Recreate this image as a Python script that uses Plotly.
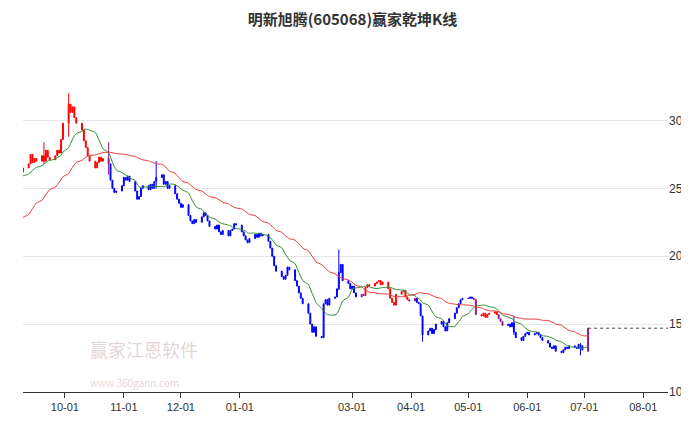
import pandas as pd
import plotly.graph_objects as go

# daily closes, one row per week (Mon..Fri), from 2022-07-18
closes = [
    18.6, 18.8, 18.5, 18.9, 19.0,
    19.0, 19.3, 19.6, 19.4, 19.9,
    20.2, 20.0, 20.6, 21.0, 20.8,
    21.4, 21.7, 21.5, 22.2, 22.6,
    23.0, 23.4, 23.2, 23.8, 24.2,
    24.5, 24.9, 24.7, 25.2, 25.5,
    25.8, 25.5, 26.0, 25.7, 25.9,
    26.3, 26.0, 26.4, 26.2, 26.5,
    26.8, 27.5, 26.9, 27.2, 27.0,
    27.4, 27.0, 27.8, 27.3, 27.1,
    27.4, 27.8, 27.6, 28.6, 29.8,
    31.2, 30.6, 31.0, 30.2, 29.8,
    29.3, 28.5, 28.0, 27.4, 27.0,
    26.5, 26.9, 27.3, 27.0, 27.2,
    26.8, 25.6, 25.0, 24.7, 24.8,
    25.2, 25.8, 25.6, 25.9, 25.5,
    24.8, 24.2, 24.4, 25.0, 25.2,
    24.9, 25.3, 25.0, 25.5, 25.8,
    26.0, 25.3, 25.5, 25.0, 25.2,
    24.6, 24.2, 23.9, 23.6, 23.8,
    23.0, 22.6, 22.4, 22.7, 22.5,
    22.9, 23.2, 23.0, 22.6, 22.2,
    22.0, 22.3, 21.8, 21.6, 21.9,
    21.5, 21.9, 22.0, 22.4, 22.3,
    21.8, 21.5, 21.2, 21.0, 21.3,
    21.6, 21.4, 21.7, 21.5, 21.6,
    21.1, 20.6, 20.0, 19.3, 18.9,
    18.5, 18.3, 18.6, 19.2, 19.0,
    18.2, 17.8, 17.3, 16.9, 16.5,
    15.8, 15.0, 14.4, 14.8, 14.1,
    14.0, 16.5, 16.8, 16.4, 16.9,
    17.0, 17.6, 18.8, 19.4, 18.2,
    18.0, 17.6, 17.8, 17.3, 17.0,
    17.2, 17.1, 17.7, 17.9, 17.8,
    18.0, 18.1, 18.2, 17.9, 18.1,
    17.6, 16.9, 16.6, 16.4, 17.2,
    17.4, 17.5, 17.0, 16.8, 16.7,
    16.9, 16.6, 16.5, 15.6, 14.2,
    14.5, 14.7, 14.3, 14.6, 15.0,
    15.2, 14.8, 14.5, 15.1, 15.4,
    15.8, 16.2, 16.5, 16.8, 16.9,
    16.9, 17.0, 16.9, 16.8, 15.7,
    15.6, 15.8, 15.5, 15.7, 15.8,
    15.9, 15.7, 15.4, 15.2, 14.9,
    15.0, 14.8, 15.1, 14.4, 14.0,
    13.8, 14.1, 14.3, 14.4, 14.2,
    14.3, 14.4, 14.2, 14.0, 13.8,
    13.6, 13.3, 13.2, 13.4, 13.0,
    12.9, 13.1, 13.3, 13.2, 13.4,
    13.3, 13.2, 13.5, 13.4, 13.1,
    14.7,
]
# days with long shadows: date -> (high, low)
wicks = {
    "2022-09-20": (28.4, 26.8),
    "2022-10-03": (32.0, 28.8),
    "2022-10-24": (28.4, 26.0),
    "2022-11-18": (27.0, 25.0),
    "2023-02-22": (20.5, 17.5),
    "2023-04-07": (15.6, 13.7),
    "2023-05-25": (15.6, 14.2),
    "2023-06-29": (13.6, 12.7),
}

dates = pd.bdate_range("2022-07-18", periods=len(closes))
df = pd.DataFrame({"close": closes}, index=dates)
df["open"] = df["close"].shift(1).fillna(df["close"])
df["high"] = df[["open", "close"]].max(axis=1)
df["low"] = df[["open", "close"]].min(axis=1)
for d, (h, l) in wicks.items():
    df.loc[d, "high"] = h
    df.loc[d, "low"] = l
df.loc[df.index[-1], "open"] = 13.0
df["ma_s"] = df["close"].rolling(12, min_periods=1).mean()
df["ma_l"] = df["close"].rolling(38, min_periods=1).mean()

# colour by short average against long average
rel = (df["ma_s"] - df["ma_l"]) / df["ma_l"]
df["grp"] = "blue"
df.loc[rel > 0.01, "grp"] = "red"
df.loc[rel.abs() <= 0.01, "grp"] = "purple"
df.loc[df.index[-1], "grp"] = "purple"

start = pd.Timestamp("2022-09-07")
v = df[df.index >= start]

colors = {"red": "#ff0000", "blue": "#0000ff", "purple": "#8b1a8b"}
fig = go.Figure()
for g, c in colors.items():
    s = v[v["grp"] == g]
    fig.add_trace(go.Candlestick(
        x=s.index, open=s["open"], high=s["high"], low=s["low"], close=s["close"],
        increasing=dict(line=dict(color=c, width=1), fillcolor=c),
        decreasing=dict(line=dict(color=c, width=1), fillcolor=c),
        whiskerwidth=0, showlegend=False, hoverinfo="skip"))
fig.add_trace(go.Scatter(x=v.index, y=v["ma_s"], mode="lines", line_shape="spline",
                         line=dict(color="#2e8b2e", width=1), showlegend=False))
fig.add_trace(go.Scatter(x=v.index, y=v["ma_l"], mode="lines", line_shape="spline",
                         line=dict(color="#ee3333", width=1), showlegend=False))
last = v.index[-1]
fig.add_trace(go.Scatter(x=[last, pd.Timestamp("2023-08-14")], y=[v["close"].iloc[-1]] * 2,
                         mode="lines", line=dict(color="#444", width=1, dash="dot"),
                         showlegend=False))

ticks = ["2022-10-01", "2022-11-01", "2022-12-01", "2023-01-01", "2023-03-01",
         "2023-04-01", "2023-05-01", "2023-06-01", "2023-07-01", "2023-08-01"]
fig.update_layout(
    width=689, height=427, plot_bgcolor="white", paper_bgcolor="white",
    margin=dict(l=15, r=29, t=31, b=43),
    font=dict(family="Noto Sans CJK SC, sans-serif", size=12, color="#333"),
    title=dict(text="<b>明新旭腾(605068)赢家乾坤K线</b>", x=0.5, y=0.985,
               font=dict(size=15, color="#333")),
    xaxis=dict(type="date", range=["2022-09-09", "2023-08-14"], rangeslider=dict(visible=False),
               tickvals=ticks, tickformat="%m-%d", ticks="outside", ticklen=5,
               tickcolor="#333", showline=True, linecolor="#333", showgrid=False,
               tickfont=dict(size=11, family="Liberation Sans, Arial")),
    yaxis=dict(side="right", range=[10, 36], tickvals=[10, 15, 20, 25, 30],
               showgrid=True, gridcolor="#e6e6e6", zeroline=False,
               tickfont=dict(size=12, family="Liberation Sans, Arial", color="#333")),
    annotations=[
        dict(text="赢家江恩软件", x=0.1, y=0.08, xref="paper", yref="paper", showarrow=False,
             font=dict(size=18, color="rgba(190,160,160,0.45)")),
        dict(text="www.360gann.com", x=0.1, y=0.0, xref="paper", yref="paper", showarrow=False,
             font=dict(size=10, color="rgba(190,160,160,0.45)")),
    ],
)
fig.write_html("out.html")
